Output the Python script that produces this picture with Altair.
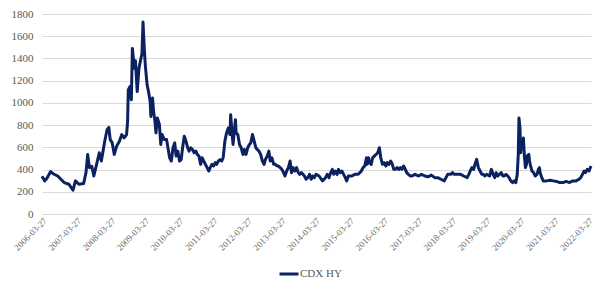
import altair as alt
import pandas as pd

# decimal-year positions and CDX HY spread levels (bp)
years = [
    2006.23, 2006.31, 2006.37, 2006.48, 2006.57, 2006.69, 2006.88, 2007.02, 2007.14, 2007.21,
    2007.31, 2007.45, 2007.52, 2007.57, 2007.62, 2007.69, 2007.75, 2007.83, 2007.91, 2007.97,
    2008.07, 2008.14, 2008.19, 2008.23, 2008.29, 2008.35, 2008.42, 2008.50, 2008.57, 2008.64,
    2008.71, 2008.74, 2008.76, 2008.81, 2008.85, 2008.88, 2008.94, 2008.97, 2009.02, 2009.07,
    2009.12, 2009.16, 2009.19, 2009.23, 2009.26, 2009.31, 2009.35, 2009.40, 2009.42, 2009.47,
    2009.50, 2009.54, 2009.57, 2009.61, 2009.67, 2009.71, 2009.75, 2009.81, 2009.88, 2009.92,
    2009.97, 2010.02, 2010.07, 2010.12, 2010.16, 2010.21, 2010.26, 2010.31, 2010.35, 2010.40,
    2010.45, 2010.50, 2010.54, 2010.59, 2010.64, 2010.69, 2010.74, 2010.78, 2010.83, 2010.88,
    2010.92, 2010.97, 2011.02, 2011.07, 2011.12, 2011.16, 2011.21, 2011.26, 2011.31, 2011.35,
    2011.40, 2011.45, 2011.50, 2011.54, 2011.59, 2011.64, 2011.69, 2011.74, 2011.76, 2011.80,
    2011.83, 2011.87, 2011.90, 2011.92, 2011.97, 2012.02, 2012.07, 2012.12, 2012.16, 2012.21,
    2012.26, 2012.31, 2012.35, 2012.40, 2012.45, 2012.50, 2012.54, 2012.59, 2012.64, 2012.69,
    2012.74, 2012.78, 2012.83, 2012.88, 2012.92, 2012.97, 2013.02, 2013.07, 2013.12, 2013.16,
    2013.21, 2013.26, 2013.31, 2013.35, 2013.40, 2013.45, 2013.50, 2013.54, 2013.59, 2013.64,
    2013.69, 2013.74, 2013.78, 2013.83, 2013.88, 2013.92, 2013.97, 2014.02, 2014.07, 2014.12,
    2014.16, 2014.21, 2014.26, 2014.35, 2014.45, 2014.54, 2014.59, 2014.64, 2014.69, 2014.74,
    2014.78, 2014.83, 2014.88, 2014.92, 2014.97, 2015.02, 2015.07, 2015.12, 2015.16, 2015.21,
    2015.31, 2015.40, 2015.50, 2015.59, 2015.64, 2015.69, 2015.74, 2015.76, 2015.80, 2015.83,
    2015.88, 2015.92, 2015.97, 2016.02, 2016.07, 2016.12, 2016.16, 2016.21, 2016.26, 2016.31,
    2016.35, 2016.40, 2016.45, 2016.50, 2016.54, 2016.59, 2016.64, 2016.69, 2016.74, 2016.78,
    2016.83, 2016.88, 2016.92, 2016.97, 2017.03, 2017.07, 2017.16, 2017.26, 2017.35, 2017.45,
    2017.54, 2017.64, 2017.74, 2017.83, 2017.92, 2018.02, 2018.07, 2018.12, 2018.21, 2018.26,
    2018.31, 2018.40, 2018.50, 2018.59, 2018.69, 2018.74, 2018.78, 2018.83, 2018.88, 2018.92,
    2018.97, 2019.02, 2019.07, 2019.12, 2019.16, 2019.21, 2019.26, 2019.35, 2019.40, 2019.45,
    2019.50, 2019.54, 2019.59, 2019.64, 2019.69, 2019.74, 2019.78, 2019.83, 2019.88, 2019.92,
    2019.97, 2020.02, 2020.07, 2020.12, 2020.16, 2020.19, 2020.21, 2020.24, 2020.26, 2020.29,
    2020.31, 2020.34, 2020.35, 2020.37, 2020.40, 2020.43, 2020.45, 2020.50, 2020.52, 2020.54,
    2020.59, 2020.64, 2020.69, 2020.74, 2020.78, 2020.81, 2020.83, 2020.88, 2020.92, 2021.02,
    2021.12, 2021.21, 2021.31, 2021.40, 2021.50, 2021.59, 2021.69, 2021.78, 2021.88, 2021.97,
    2022.02, 2022.07, 2022.12, 2022.16, 2022.21, 2022.26, 2022.32,
]
spread = [
    340, 298, 320, 381, 360, 342, 283, 268, 214, 298,
    268, 274, 372, 536, 417, 430, 342, 447, 551, 477,
    655, 760, 780, 670, 640, 536, 611, 655, 715, 685,
    715, 834, 1117, 1147, 1028, 1490, 1311, 1380, 1102, 1311,
    1386, 1445, 1728, 1471, 1326, 1162, 1102, 1013, 877, 1043,
    924, 834, 730, 864, 805, 626, 715, 670, 670, 596,
    506, 477, 596, 640, 521, 566, 477, 490, 596, 700,
    655, 596, 566, 596, 580, 551, 566, 536, 521, 447,
    506, 477, 447, 417, 387, 417, 447, 432, 462, 447,
    477, 490, 477, 506, 655, 730, 774, 715, 894, 730,
    626, 760, 849, 730, 715, 626, 596, 536, 581, 536,
    596, 626, 640, 715, 655, 596, 581, 566, 536, 477,
    447, 492, 521, 566, 477, 506, 447, 447, 432, 432,
    417, 402, 372, 342, 387, 417, 477, 372, 417, 387,
    417, 372, 357, 372, 357, 342, 313, 327, 357, 313,
    342, 327, 357, 342, 298, 327, 357, 327, 372, 402,
    357, 387, 357, 402, 372, 387, 357, 327, 298, 342,
    342, 357, 357, 387, 417, 432, 506, 447, 506, 462,
    447, 506, 521, 536, 551, 596, 506, 447, 462, 432,
    462, 447, 477, 447, 402, 402, 417, 402, 417, 402,
    432, 402, 372, 357, 342, 342, 357, 342, 357, 342,
    335, 350, 327, 327, 313, 298, 327, 357, 357, 372,
    357, 357, 357, 342, 327, 357, 387, 417, 402, 447,
    492, 417, 387, 357, 357, 342, 357, 342, 402, 357,
    327, 372, 342, 357, 372, 342, 342, 357, 342, 327,
    298, 283, 298, 283, 357, 536, 864, 774, 551, 655,
    596, 685, 626, 521, 417, 447, 521, 536, 477, 447,
    387, 372, 342, 357, 402, 417, 372, 327, 298, 298,
    303, 298, 293, 283, 283, 293, 283, 298, 298, 313,
    327, 357, 387, 372, 402, 387, 432,
]
series_name = "CDX HY"
tick_years = list(range(2006, 2023))


def dec_to_date(y):
    base = int(y)
    return pd.Timestamp(year=base, month=1, day=1) + pd.Timedelta(days=(y - base) * 365.25)


df = pd.DataFrame({
    "date": [dec_to_date(y) for y in years],
    "value": spread,
    "series": series_name,
})

font = "Liberation Serif"
grey = "#595959"
navy = "#0C2260"

chart = alt.Chart(df).mark_line(strokeWidth=3, strokeJoin="round").encode(
    x=alt.X(
        "date:T",
        scale=alt.Scale(domain=[dec_to_date(years[0]).isoformat(), dec_to_date(years[-1]).isoformat()]),
        axis=alt.Axis(
            values=[alt.DateTime(year=y, month=3, date=27) for y in tick_years],
            format="%Y-%m-%d",
            labelAngle=-45,
            labelAlign="right",
            labelBaseline="top",
            labelFont=font,
            labelFontSize=9,
            labelColor="#6b6b6b",
            labelPadding=2,
            ticks=False,
            domain=False,
            grid=False,
            title=None,
            labelOverlap=False,
        ),
    ),
    y=alt.Y(
        "value:Q",
        scale=alt.Scale(domain=[0, 1800], nice=False),
        axis=alt.Axis(
            values=list(range(0, 1801, 200)),
            format="d",
            labelFont=font,
            labelFontSize=11,
            labelColor=grey,
            labelPadding=9,
            ticks=False,
            domain=False,
            gridColor="#d9d9d9",
            gridWidth=1,
            title=None,
        ),
    ),
    color=alt.Color(
        "series:N",
        scale=alt.Scale(range=[navy]),
        legend=alt.Legend(
            title=None,
            orient="none",
            legendX=236,
            legendY=249,
            symbolType="stroke",
            symbolStrokeWidth=3,
            symbolSize=360,
            labelFont=font,
            labelFontSize=11,
            labelColor=grey,
            labelOffset=0,
        ),
    ),
).properties(
    width=549,
    height=200,
    autosize=alt.AutoSizeParams(type="none"),
    padding={"left": 34, "top": 6, "right": 6, "bottom": 64},
).configure_view(stroke=None)

chart.save("out.html", embed_options={"renderer": "svg", "actions": False})
